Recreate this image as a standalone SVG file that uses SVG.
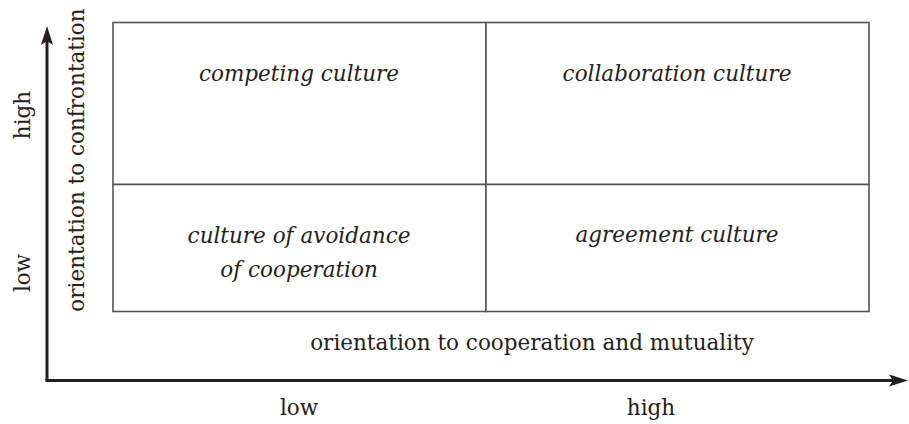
<svg xmlns="http://www.w3.org/2000/svg" width="909" height="424" viewBox="0 0 909 424">
<style>
.cell{fill:#fff;stroke:#555;stroke-width:1.6}
.it{font-family:"DejaVu Serif","Liberation Serif",serif;font-style:italic;font-size:21.5px;fill:#222;text-anchor:middle}
.rm{font-family:"DejaVu Serif","Liberation Serif",serif;font-size:21.5px;fill:#222;text-anchor:middle}
.axis{stroke:#231f20;stroke-width:3;fill:none}
.head{fill:#231f20}
</style>
<g id="connectors">
<path class="axis" d="M47,381 L47,36"/>
<path class="head" d="M47,26 L53,45 L47,41 L41,45 Z"/>
<path class="axis" d="M45.5,380.5 L898,380.5"/>
<path class="head" d="M908,380.5 L889,386.5 L893,380.5 L889,374.5 Z"/>
</g>
<g id="competing">
<rect class="cell" x="113" y="22.5" width="373" height="162"/>
<text class="it" x="299" y="81">competing culture</text>
</g>
<g id="collaboration">
<rect class="cell" x="486" y="22.5" width="383" height="162"/>
<text class="it" x="677" y="81">collaboration culture</text>
</g>
<g id="avoidance">
<rect class="cell" x="113" y="184.5" width="373" height="127"/>
<text class="it" x="299" y="243">culture of avoidance</text>
<text class="it" x="299" y="277">of cooperation</text>
</g>
<g id="agreement">
<rect class="cell" x="486" y="184.5" width="383" height="127"/>
<text class="it" x="677" y="242">agreement culture</text>
</g>
<g id="labels">
<text class="rm" x="532" y="350">orientation to cooperation and mutuality</text>
<text class="rm" x="299" y="415">low</text>
<text class="rm" x="651" y="415">high</text>
<text class="rm" transform="translate(30,115) rotate(-90)">high</text>
<text class="rm" transform="translate(30,273) rotate(-90)">low</text>
<text class="rm" transform="translate(84,160) rotate(-90)">orientation to confrontation</text>
</g>
</svg>
